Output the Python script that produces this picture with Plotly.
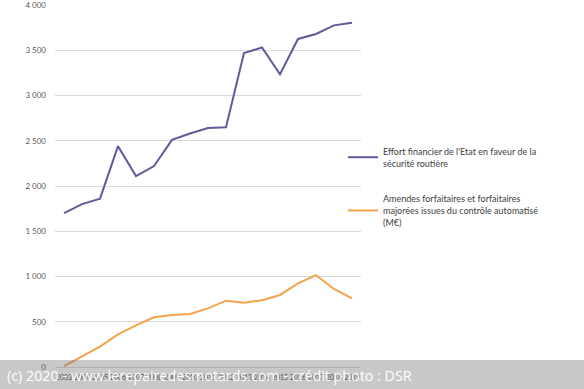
import plotly.graph_objects as go

years = [str(y) for y in range(2003, 2020)]
effort = [1700, 1800, 1860, 2440, 2110, 2220, 2510, 2580, 2640, 2650, 3470, 3530, 3235, 3625, 3680, 3775, 3805]
amendes = [10, 120, 225, 360, 460, 550, 575, 585, 648, 733, 711, 737, 796, 925, 1015, 862, 759]

name1 = "Effort financier de l'Etat en faveur de la<br>sécurité routière"
name2 = "Amendes forfaitaires et forfaitaires<br>majorées issues du contrôle automatisé<br>(M€)"

fig = go.Figure()
fig.add_trace(go.Scatter(x=years, y=effort, mode="lines", name=name1, legendgroup="a",
                         line=dict(color="#5d5b9b", width=2)))
fig.add_trace(go.Scatter(x=years, y=amendes, mode="lines", name=name2, legendgroup="b",
                         line=dict(color="#f5a34a", width=2)))

L, R, T, B = 55, 361, 5, 367
W, H = 584, 389
def px(x):
    return (x - L) / (R - L)
def py(y):
    return (B - y) / (B - T)

fig.update_layout(
    width=W, height=H,
    margin=dict(l=L, r=W - R, t=T, b=H - B, autoexpand=False),
    plot_bgcolor="white", paper_bgcolor="white",
    font=dict(family="Lato, Carlito, sans-serif", color="#595959", size=9),
    separators=", ",
    showlegend=True,
    legend=dict(x=px(343), y=py(139), xanchor="left", yanchor="top",
                traceorder="grouped", tracegroupgap=21,
                font=dict(size=9, color="#404040"), itemwidth=30,
                bgcolor="rgba(0,0,0,0)"),
    xaxis=dict(type="category", showgrid=False, showline=False, zeroline=False,
               tickfont=dict(size=7, color="#404040"), ticks="", tickangle=0,
               ticklabelstandoff=5,
               range=[-0.5, 16.5], automargin=False, ticklabeloverflow="allow"),
    yaxis=dict(range=[0, 4000], dtick=500, tickformat=",d", showgrid=True,
               gridcolor="#d9d9d9", gridwidth=1, zeroline=True, zerolinecolor="#d9d9d9",
               zerolinewidth=1, showline=False, ticks="", ticklabelstandoff=8,
               automargin=False, ticklabeloverflow="allow",
               tickfont=dict(size=8, color="#595959")),
    shapes=[dict(type="rect", xref="paper", yref="paper", layer="above",
                 x0=px(0), x1=px(W), y0=py(360), y1=py(H + 2),
                 fillcolor="rgba(110,110,110,0.38)", line=dict(width=0))],
    annotations=[dict(text="(c) 2020 - www.lerepairedesmotards.com - crédit photo : DSR",
                      xref="paper", yref="paper", x=px(5), y=py(375),
                      xanchor="left", yanchor="middle", showarrow=False,
                      font=dict(family="Open Sans, sans-serif", size=14.3, color="white"))],
)

fig.write_html("out.html", config={"displayModeBar": False},
               post_script="document.body.style.margin='0';")
